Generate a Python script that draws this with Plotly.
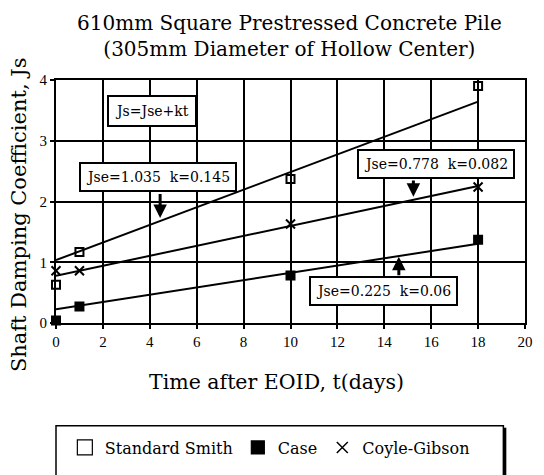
import plotly.graph_objects as go

# ---- data ----
t_days = [0, 1, 10, 18]
smith = [0.63, 1.17, 2.37, 3.90]
case = [0.04, 0.27, 0.78, 1.37]
coyle = [0.86, 0.86, 1.63, 2.24]

series_names = ["Standard Smith", "Case", "Coyle-Gibson"]
jse = [1.035, 0.225, 0.778]
k_rate = [0.145, 0.06, 0.082]
fit_t = [0, 18]

x_ticks = list(range(0, 21, 2))
y_ticks = [0, 1, 2, 3, 4]

SERIF = "DejaVu Serif"

# screen geometry; the page body adds an 8px offset to the figure
OFF = 8
W, H = 544 - OFF, 475 - OFF
PL, PR, PT, PB = 56, 533, 80, 333          # plot area in screen pixels
PW, PH = PR - PL, PB - PT


def px(sx):
    return (sx - PL) / PW


def py(sy):
    return (PB - sy) / PH


fig = go.Figure()

# fit lines Js = Jse + k t
for j, k in zip(jse, k_rate):
    fig.add_trace(go.Scatter(
        x=fit_t, y=[j + k * t for t in fit_t], mode="lines",
        line=dict(color="black", width=2), showlegend=False, hoverinfo="skip"))

symbols = ["square-open", "square", "x-thin-open"]
values = [smith, case, coyle]
for name, sym, vals in zip(series_names, symbols, values):
    fig.add_trace(go.Scatter(
        x=t_days, y=vals, mode="markers", name=name, showlegend=False,
        cliponaxis=False,
        marker=dict(symbol=sym, size=8 if sym != "x-thin-open" else 9, color="black",
                    line=dict(color="black", width=2))))

# legend-only entries with bigger symbols
legend_sizes = [15, 13, 11]
for lab, sym, sz in zip(series_names, symbols, legend_sizes):
    fig.add_trace(go.Scatter(
        x=[None], y=[None], mode="markers", name=lab,
        marker=dict(symbol=sym, size=sz, color="black",
                    line=dict(color="black", width=1.2 if sym != "x-thin-open" else 1.5))))

# equation boxes (data coordinates)
box = dict(bgcolor="white", bordercolor="black", borderwidth=2, borderpad=5,
           showarrow=False, xanchor="center", yanchor="middle",
           font=dict(family=SERIF, size=14, color="black"))
fig.add_annotation(x=4.08, y=3.49, text="Js=Jse+kt", **{**box, "borderpad": 6})
fig.add_annotation(x=4.36, y=2.40, text="Jse=1.035\u00a0\u00a0k=0.145", **box)
fig.add_annotation(x=16.22, y=2.62, text="Jse=0.778\u00a0\u00a0k=0.082", **box)
fig.add_annotation(x=13.96, y=0.52, text="Jse=0.225\u00a0\u00a0k=0.06", **box)

# pointers from the boxes to the lines
arrow = dict(text="", showarrow=True, arrowhead=2, arrowsize=0.9, arrowwidth=3,
             arrowcolor="black", axref="x", ayref="y")
fig.add_annotation(x=4.44, y=1.73, ax=4.44, ay=2.15, **arrow)
fig.add_annotation(x=15.24, y=2.08, ax=15.24, ay=2.37, **arrow)
fig.add_annotation(x=14.62, y=1.09, ax=14.62, ay=0.76, **arrow)

# title
fig.add_annotation(xref="paper", yref="paper", x=px(293), y=py(34),
                   xanchor="center", yanchor="middle",
                   text="610mm Square Prestressed Concrete Pile<br>(305mm Diameter of Hollow Center)",
                   showarrow=False, font=dict(family=SERIF, size=20, color="black"))
# axis titles
fig.add_annotation(xref="paper", yref="paper", x=px(280), y=py(394),
                   xanchor="center", yanchor="middle",
                   text="Time after EOID, t(days)", showarrow=False,
                   font=dict(family=SERIF, size=20.5, color="black"))
fig.add_annotation(xref="paper", yref="paper", x=px(19), y=py(220),
                   xanchor="center", yanchor="middle",
                   text="Shaft Damping Coefficient, Js", showarrow=False, textangle=-90,
                   font=dict(family=SERIF, size=21, color="black"))

# legend frame (with shadow on the right)
fig.add_shape(type="rect", xref="paper", yref="paper", x0=px(510), x1=px(514),
              y0=py(442), y1=py(495), fillcolor="black", line=dict(width=0))
fig.add_shape(type="rect", xref="paper", yref="paper", x0=px(56), x1=px(511),
              y0=py(440), y1=py(495), fillcolor="white", line=dict(color="black", width=1.5))

axis_common = dict(showline=True, linecolor="black", linewidth=2, mirror=True,
                   showgrid=True, gridcolor="black", gridwidth=2,
                   ticks="outside", ticklen=4, tickwidth=2, tickcolor="black",
                   zeroline=False,
                   tickfont=dict(family="Liberation Serif", size=15, color="black"))

fig.update_layout(
    width=W, height=H,
    margin=dict(l=PL - OFF, r=W - (PR - OFF), t=PT - OFF, b=H - (PB - OFF)),
    paper_bgcolor="white", plot_bgcolor="white",
    xaxis=dict(range=[0, 20], tickvals=x_ticks, **axis_common),
    yaxis=dict(range=[0, 4], tickvals=y_ticks, **axis_common),
    legend=dict(orientation="h", x=px(65), xanchor="left", y=py(445), yanchor="top",
                bgcolor="rgba(0,0,0,0)", borderwidth=0,
                font=dict(family=SERIF, size=16, color="black"), itemsizing="trace"),
    showlegend=True,
)

fig.write_html("out.html")
